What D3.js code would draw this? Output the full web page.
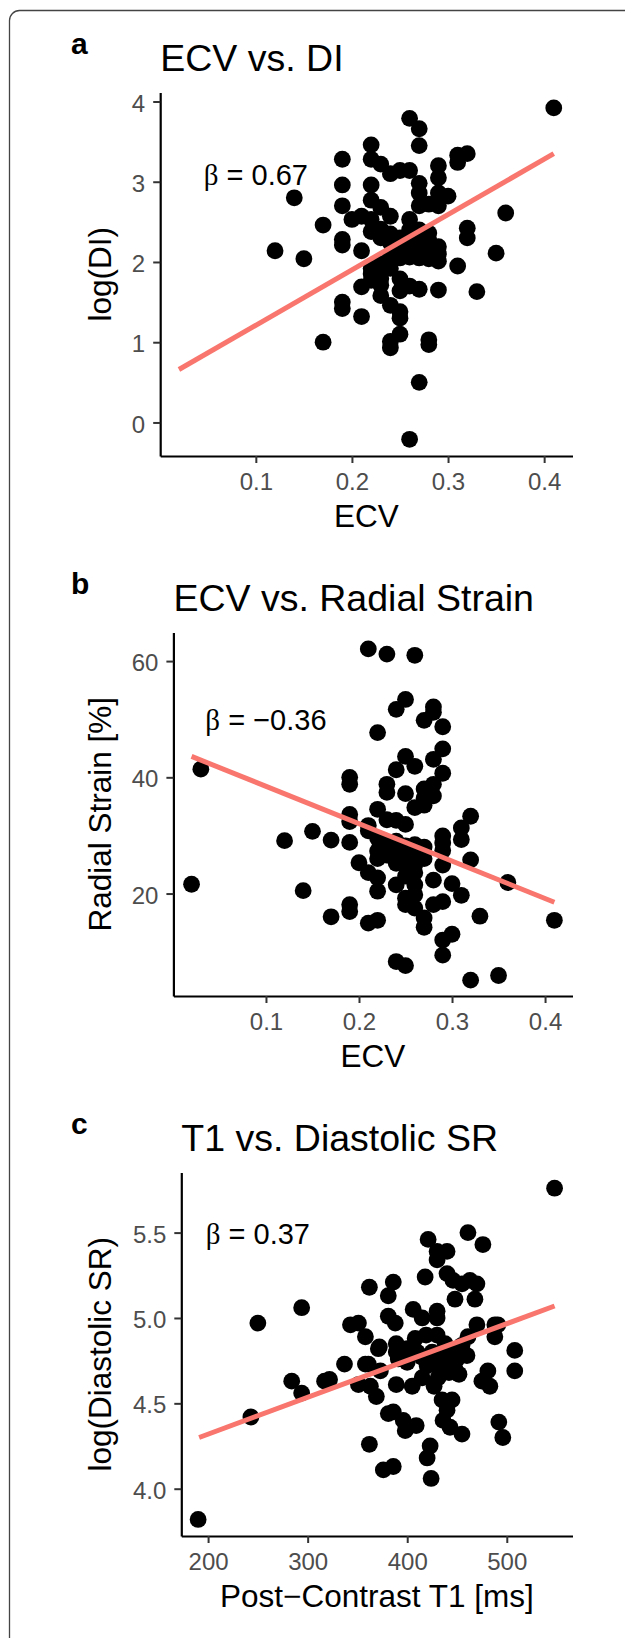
<!DOCTYPE html>
<html>
<head>
<meta charset="utf-8">
<script src="https://cdn.jsdelivr.net/npm/d3@7"></script>
<style>
  body { margin: 0; background: #fff; }
  svg { display: block; font-family: "Liberation Sans", Arial, sans-serif; }
</style>
</head>
<body>
<svg id="fig" width="625" height="1638"></svg>
<script>
// panel a: ECV vs log(DI)
const ecvA = [0.41,0.26,0.27,0.27,0.22,0.19,0.22,0.23,0.24,0.25,0.26,0.29,0.29,0.31,0.32,0.31,
  0.19,0.22,0.27,0.27,0.29,0.30,0.14,0.19,0.22,0.23,0.27,0.28,0.29,0.36,0.17,0.20,0.21,0.22,
  0.24,0.26,0.32,0.32,0.19,0.19,0.22,0.23,0.28,0.12,0.21,0.24,0.25,0.25,0.26,0.26,0.27,0.28,
  0.29,0.29,0.35,0.15,0.28,0.29,0.24,0.24,0.31,0.22,0.22,0.23,0.25,0.21,0.23,0.23,0.25,0.26,
  0.27,0.29,0.33,0.19,0.19,0.24,0.25,0.25,0.21,0.17,0.25,0.24,0.24,0.28,0.28,0.27,0.26,0.23,
  0.24,0.26,0.27,0.27,0.28,0.25,0.23,0.27,0.22,0.26];
const logDI = [3.92,3.79,3.66,3.45,3.46,3.28,3.28,3.22,3.10,3.14,3.14,3.20,3.05,3.33,3.35,3.24,
  2.96,2.96,2.98,2.86,2.86,2.82,2.80,2.70,2.77,2.68,2.70,2.72,2.70,2.61,2.46,2.53,2.57,2.53,
  2.57,2.53,2.42,2.30,2.28,2.21,2.38,2.41,2.36,2.14,2.14,2.24,2.30,2.19,2.19,2.06,2.15,2.15,
  2.19,2.10,2.11,2.04,2.04,2.01,2.06,1.92,1.95,1.92,1.77,1.79,1.79,1.69,1.71,1.58,1.64,1.70,
  1.66,1.65,1.63,1.50,1.42,1.46,1.38,1.30,1.32,1.00,1.10,1.01,0.93,1.03,0.97,0.50,-0.21,2.30,
  2.35,2.30,2.25,2.40,2.27,2.05,1.98,2.05,1.85,2.40];

// panel b: ECV vs radial strain
const ecvB = [0.21,0.23,0.26,0.25,0.24,0.28,0.28,0.27,0.29,0.22,0.29,0.25,0.28,0.26,0.24,0.29,
  0.03,0.19,0.19,0.23,0.23,0.25,0.27,0.28,0.28,0.27,0.26,0.27,0.22,0.32,0.19,0.19,0.23,0.24,
  0.25,0.21,0.21,0.31,0.31,0.15,0.12,0.17,0.19,0.29,0.29,0.29,0.29,0.22,0.23,0.24,0.25,0.26,
  0.27,0.22,0.23,0.24,0.25,0.26,0.27,0.22,0.24,0.25,0.26,0.23,0.32,0.20,0.21,0.22,0.22,0.24,
  0.26,0.26,0.25,0.25,0.26,0.28,0.30,0.31,0.36,0.02,0.14,0.28,0.29,0.19,0.19,0.17,0.21,0.22,
  0.27,0.27,0.33,0.41,0.30,0.29,0.29,0.24,0.25,0.32,0.35,0.26,0.25];
const radialStrain = [62.1,61.2,61.0,53.4,51.7,52.1,51.2,49.8,48.7,47.7,44.9,43.6,43.1,41.9,41.3,40.7,
  41.4,40.0,38.8,38.8,37.4,37.2,38.0,38.8,36.8,36.4,34.8,35.2,34.5,33.3,33.6,32.4,32.7,32.6,
  31.9,31.7,30.8,31.3,29.3,30.7,29.1,29.2,28.8,29.9,28.7,27.4,24.9,29.5,28.6,29.0,28.2,28.4,
  28.0,27.3,26.6,27.6,26.2,26.9,26.0,26.0,25.2,25.5,25.0,27.9,25.8,25.3,23.6,22.7,20.4,21.5,
  21.5,19.8,19.2,18.1,17.5,22.3,21.7,19.7,21.9,21.6,20.5,18.1,18.6,18.1,16.9,16.0,14.9,15.4,
  15.8,14.2,16.1,15.4,13.0,12.0,9.4,8.3,7.6,5.1,5.9,23.6,23.0];

// panel c: post-contrast T1 vs log(diastolic SR)
const t1C = [548,190,243,250,294,284,294,317,337,343,351,358,362,371,358,351,363,369,373,362,
  376,386,381,386,396,398,409,381,386,381,388,389,389,391,389,406,415,418,421,430,440,430,440,
  446,455,463,470,448,468,461,476,430,430,408,419,430,405,415,427,431,435,445,436,443,440,455,
  423,420,424,470,461,488,491,488,508,508,481,483,475,492,496,372,361,322,425,435,440,445,450,
  438,448,455,430,442,452,410,400,415,460,420,400];
const logSR = [5.76,3.82,4.42,4.97,5.06,4.63,4.56,4.63,4.73,4.96,4.97,4.89,5.18,4.82,4.73,4.61,
  4.60,4.54,4.69,4.26,4.11,4.13,4.44,4.45,4.40,4.34,4.37,5.13,5.21,5.01,4.97,4.85,4.80,4.76,
  4.61,5.05,5.00,5.24,5.46,5.39,5.39,5.34,5.26,5.22,5.20,5.22,5.20,5.11,5.11,5.50,5.43,5.04,
  5.00,4.88,4.90,4.90,4.60,4.65,4.60,4.65,4.52,4.52,4.40,4.36,4.46,4.32,4.25,4.18,4.06,4.96,
  4.89,4.96,4.96,4.89,4.81,4.69,4.69,4.60,4.63,4.39,4.30,4.83,4.73,4.64,4.80,4.78,4.72,4.80,
  4.76,4.85,4.70,4.84,4.72,4.68,4.67,4.80,4.74,4.77,4.78,4.72,4.82];

// fitted lines, [x0, y0, x1, y1]
const fitA = [0.02, 0.66, 0.41, 3.35];
const fitB = [0.02, 43.6, 0.41, 18.5];
const fitC = [191, 4.30, 548, 5.07];

const ecvTicks = [0.1, 0.2, 0.3, 0.4];
const diTicks = [0, 1, 2, 3, 4];
const strainTicks = [20, 40, 60];
const t1Ticks = [200, 300, 400, 500];
const srTicks = [4.0, 4.5, 5.0, 5.5];

const svg = d3.select("#fig");

svg.append("rect")
  .attr("x", 9.5).attr("y", 10.5)
  .attr("width", 700).attr("height", 1700)
  .attr("rx", 10)
  .attr("fill", "none")
  .attr("stroke", "#444")
  .attr("stroke-width", 1.3);

const panels = [
  { tag: "a", title: "ECV vs. DI", xs: ecvA, ys: logDI, fit: fitA,
    xDom: [0.0005, 0.4295], yDom: [-0.418, 4.112], xTicks: ecvTicks, yTicks: diTicks,
    xFmt: d3.format(".1f"), yFmt: d3.format("d"), xLab: "ECV", yLab: "log(DI)",
    beta: "0.67", betaAt: [0.1, 3.1], off: 0, left: 160.2 },
  { tag: "b", title: "ECV vs. Radial Strain", xs: ecvB, ys: radialStrain, fit: fitB,
    xDom: [0.0005, 0.4295], yDom: [2.37, 64.92], xTicks: ecvTicks, yTicks: strainTicks,
    xFmt: d3.format(".1f"), yFmt: d3.format("d"), xLab: "ECV", yLab: "Radial Strain [%]",
    beta: "\u22120.36", betaAt: [0.1, 50], off: 540, left: 173.4 },
  { tag: "c", title: "T1 vs. Diastolic SR", xs: t1C, ys: logSR, fit: fitC,
    xDom: [173.1, 566], yDom: [3.723, 5.852], xTicks: t1Ticks, yTicks: srTicks,
    xFmt: d3.format("d"), yFmt: d3.format(".1f"), xLab: "Post\u2212Contrast T1 [ms]", yLab: "log(Diastolic SR)",
    beta: "0.37", betaAt: [250, 5.5], off: 1080, left: 181.3 }
];

const right = 572.5;

panels.forEach(p => {
  const top = p.off + 92.5;
  const bottom = p.off + 456;
  const x = d3.scaleLinear().domain(p.xDom).range([p.left, right]);
  const y = d3.scaleLinear().domain(p.yDom).range([bottom, top]);

  svg.append("text")
    .attr("x", 71).attr("y", p.off + 54)
    .attr("font-size", 30).attr("font-weight", "bold")
    .text(p.tag);

  svg.append("text")
    .attr("x", p.left).attr("y", p.off + 71)
    .attr("font-size", 37.5)
    .text(p.title);

  const xAxis = svg.append("g")
    .attr("transform", `translate(0, ${bottom})`)
    .call(d3.axisBottom(x).tickValues(p.xTicks).tickFormat(p.xFmt)
      .tickSize(7).tickSizeOuter(0).tickPadding(9.5));
  const yAxis = svg.append("g")
    .attr("transform", `translate(${p.left}, 0)`)
    .call(d3.axisLeft(y).tickValues(p.yTicks).tickFormat(p.yFmt)
      .tickSize(7).tickSizeOuter(0).tickPadding(8));

  [xAxis, yAxis].forEach(g => {
    g.select(".domain").attr("stroke", "#000").attr("stroke-width", 2.2);
    g.selectAll(".tick line").attr("stroke", "#333").attr("stroke-width", 2);
    g.selectAll(".tick text")
      .attr("fill", "#4d4d4d")
      .attr("font-size", 24)
      .attr("font-family", "Liberation Sans, Arial, sans-serif");
  });
  yAxis.selectAll(".tick text").attr("dy", "0.4em");

  svg.append("text")
    .attr("x", (p.left + right) / 2).attr("y", p.off + 527)
    .attr("text-anchor", "middle")
    .attr("font-size", 31.5)
    .text(p.xLab);

  svg.append("text")
    .attr("transform", `translate(111, ${(top + bottom) / 2}) rotate(-90)`)
    .attr("text-anchor", "middle")
    .attr("font-size", 31.5)
    .text(p.yLab);

  svg.append("g")
    .selectAll("circle")
    .data(p.xs.map((v, i) => [v, p.ys[i]]))
    .join("circle")
    .attr("cx", d => x(d[0]))
    .attr("cy", d => y(d[1]))
    .attr("r", 8.4)
    .attr("fill", "#000");

  svg.append("path")
    .datum([[p.fit[0], p.fit[1]], [p.fit[2], p.fit[3]]])
    .attr("fill", "none")
    .attr("stroke", "#F8766D")
    .attr("stroke-width", 5)
    .attr("d", d3.line().x(d => x(d[0])).y(d => y(d[1])));

  const beta = svg.append("text")
    .attr("x", x(p.betaAt[0])).attr("y", y(p.betaAt[1]) + 11)
    .attr("text-anchor", "middle")
    .attr("font-size", 29);
  beta.append("tspan").attr("font-family", "Liberation Serif, serif").text("\u03b2");
  beta.append("tspan").text(" = " + p.beta);
});
</script>
</body>
</html>
